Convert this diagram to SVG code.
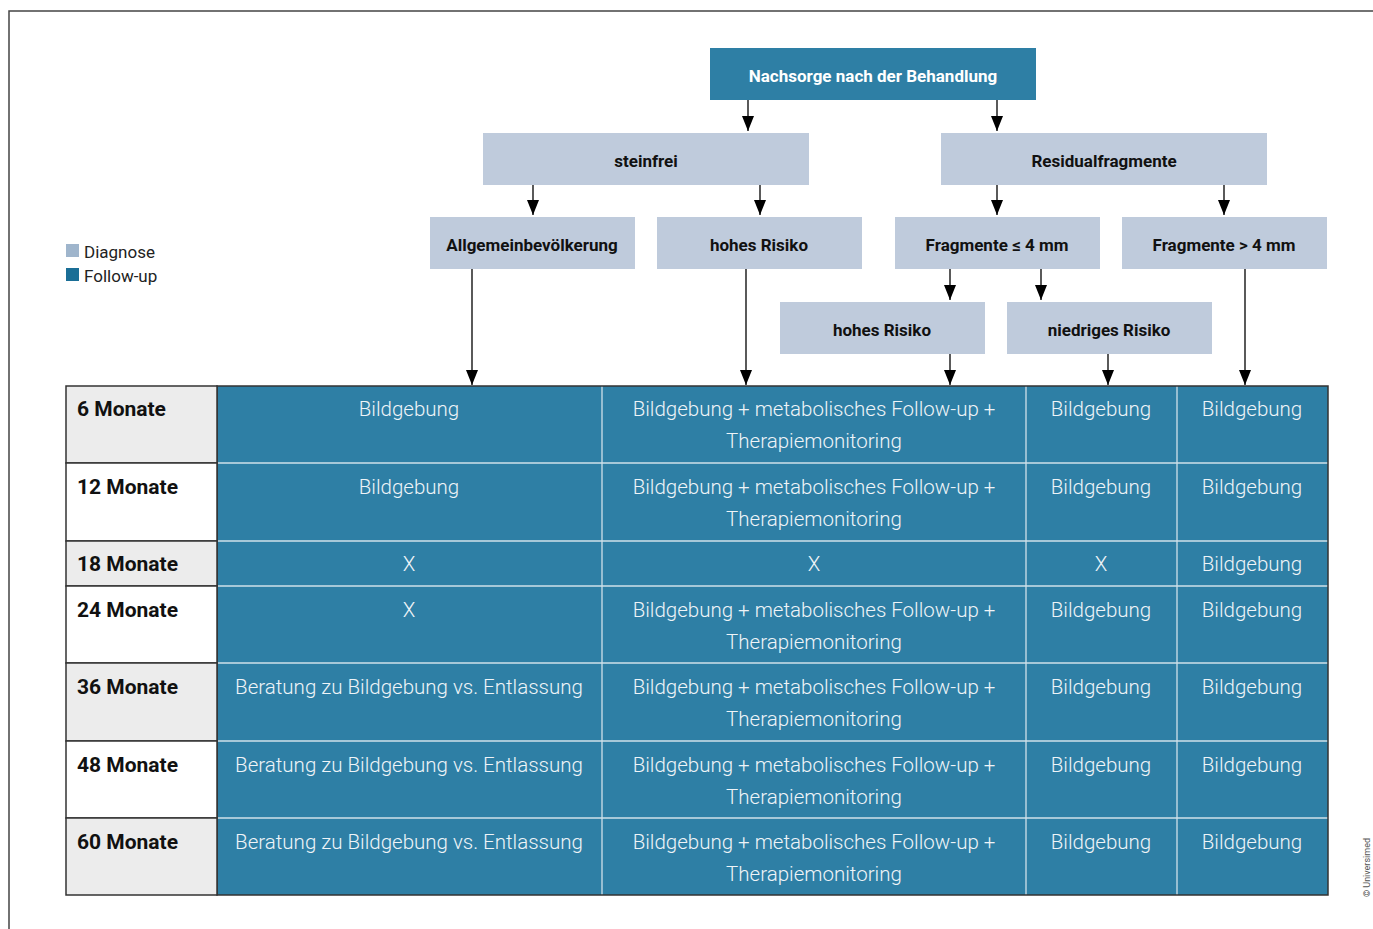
<svg xmlns="http://www.w3.org/2000/svg" width="1373" height="929" viewBox="0 0 1373 929">
<defs>
<marker id="ah" viewBox="0 0 15 12" refX="15" refY="6" markerWidth="15" markerHeight="12" markerUnits="userSpaceOnUse" orient="auto">
<path d="M0,0 L15,6 L0,12 Z" fill="#000"/>
</marker>
<style>
.frame{fill:none;stroke:#444;stroke-width:1.5}
.top{fill:#2e7fa5}
.diag{fill:#bfcbdc}
.ntw{font-family:Roboto,"Liberation Sans",sans-serif;font-weight:700;font-size:17px;fill:#fff;text-anchor:middle}
.nt{font-family:Roboto,"Liberation Sans",sans-serif;font-weight:700;font-size:17px;fill:#111;text-anchor:middle}
.conn line{stroke:#000;stroke-width:1.3;marker-end:url(#ah)}
.lab{stroke:#333;stroke-width:1.5}
.labg{fill:#ececec}
.labw{fill:#fff}
.lt{font-family:Roboto,"Liberation Sans",sans-serif;font-weight:700;font-size:21px;fill:#111}
.cell{fill:#2e7fa5}
.grid{stroke:#cfe1ea;stroke-width:1.3}
.ct{font-family:Roboto,"Liberation Sans",sans-serif;font-weight:300;font-size:20.5px;fill:#eef4f8;text-anchor:middle}
.leg{font-family:Roboto,"Liberation Sans",sans-serif;font-size:17px;fill:#222}
</style>
</defs>
<rect width="1373" height="929" fill="#fff"/>
<path class="frame" d="M9,929 L9,11 L1373,11"/>

<g id="legend">
<rect x="66" y="244" width="13" height="13" fill="#9fb5cc"/>
<text class="leg" x="84" y="258">Diagnose</text>
<rect x="66" y="268" width="13" height="13" fill="#1a6e96"/>
<text class="leg" x="84" y="282">Follow-up</text>
</g>

<g id="n-root"><rect class="top" x="710" y="48" width="326" height="52"/><text class="ntw" x="873" y="82">Nachsorge nach der Behandlung</text></g>
<g id="n-steinfrei"><rect class="diag" x="483" y="133" width="326" height="52"/><text class="nt" x="646" y="167">steinfrei</text></g>
<g id="n-residual"><rect class="diag" x="941" y="133" width="326" height="52"/><text class="nt" x="1104" y="167">Residualfragmente</text></g>
<g id="n-allgemein"><rect class="diag" x="430" y="217" width="205" height="52"/><text class="nt" x="532" y="251">Allgemeinbevölkerung</text></g>
<g id="n-hohes1"><rect class="diag" x="657" y="217" width="205" height="52"/><text class="nt" x="759" y="251">hohes Risiko</text></g>
<g id="n-frag-le4"><rect class="diag" x="895" y="217" width="205" height="52"/><text class="nt" x="997" y="251">Fragmente ≤ 4 mm</text></g>
<g id="n-frag-gt4"><rect class="diag" x="1122" y="217" width="205" height="52"/><text class="nt" x="1224" y="251">Fragmente &gt; 4 mm</text></g>
<g id="n-hohes2"><rect class="diag" x="780" y="302" width="205" height="52"/><text class="nt" x="882" y="336">hohes Risiko</text></g>
<g id="n-niedrig"><rect class="diag" x="1007" y="302" width="205" height="52"/><text class="nt" x="1109" y="336">niedriges Risiko</text></g>

<g id="connectors" class="conn">
<line x1="748" y1="100" x2="748" y2="131"/>
<line x1="997" y1="100" x2="997" y2="131"/>
<line x1="533" y1="185" x2="533" y2="215"/>
<line x1="760" y1="185" x2="760" y2="215"/>
<line x1="997" y1="185" x2="997" y2="215"/>
<line x1="1224" y1="185" x2="1224" y2="215"/>
<line x1="950" y1="269" x2="950" y2="300"/>
<line x1="1041" y1="269" x2="1041" y2="300"/>
<line x1="472" y1="269" x2="472" y2="385"/>
<line x1="746" y1="269" x2="746" y2="385"/>
<line x1="950" y1="354" x2="950" y2="385"/>
<line x1="1108" y1="354" x2="1108" y2="385"/>
<line x1="1245" y1="269" x2="1245" y2="385"/>
</g>

<g id="table">
<rect class="cell" x="217" y="386" width="1111" height="509"/>
<g class="grid">
<line x1="217" y1="463" x2="1328" y2="463"/>
<line x1="217" y1="541" x2="1328" y2="541"/>
<line x1="217" y1="586" x2="1328" y2="586"/>
<line x1="217" y1="663" x2="1328" y2="663"/>
<line x1="217" y1="741" x2="1328" y2="741"/>
<line x1="217" y1="818" x2="1328" y2="818"/>
<line x1="602" y1="386" x2="602" y2="895"/>
<line x1="1026" y1="386" x2="1026" y2="895"/>
<line x1="1177" y1="386" x2="1177" y2="895"/>
</g>
<rect x="217" y="386" width="1111" height="509" fill="none" stroke="#333" stroke-width="1.5"/>
<g class="lab">
<rect class="labg" x="66" y="386" width="151" height="77"/>
<rect class="labw" x="66" y="463" width="151" height="78"/>
<rect class="labg" x="66" y="541" width="151" height="45"/>
<rect class="labw" x="66" y="586" width="151" height="77"/>
<rect class="labg" x="66" y="663" width="151" height="78"/>
<rect class="labw" x="66" y="741" width="151" height="77"/>
<rect class="labg" x="66" y="818" width="151" height="77"/>
</g>
<text class="lt" x="77" y="416">6 Monate</text>
<text class="lt" x="77" y="494">12 Monate</text>
<text class="lt" x="77" y="571">18 Monate</text>
<text class="lt" x="77" y="617">24 Monate</text>
<text class="lt" x="77" y="694">36 Monate</text>
<text class="lt" x="77" y="772">48 Monate</text>
<text class="lt" x="77" y="849">60 Monate</text>

<text class="ct" x="409" y="416">Bildgebung</text>
<text class="ct" x="814" y="416">Bildgebung + metabolisches Follow-up +</text>
<text class="ct" x="814" y="448">Therapiemonitoring</text>
<text class="ct" x="1101" y="416">Bildgebung</text>
<text class="ct" x="1252" y="416">Bildgebung</text>

<text class="ct" x="409" y="494">Bildgebung</text>
<text class="ct" x="814" y="494">Bildgebung + metabolisches Follow-up +</text>
<text class="ct" x="814" y="526">Therapiemonitoring</text>
<text class="ct" x="1101" y="494">Bildgebung</text>
<text class="ct" x="1252" y="494">Bildgebung</text>

<text class="ct" x="409" y="571">X</text>
<text class="ct" x="814" y="571">X</text>
<text class="ct" x="1101" y="571">X</text>
<text class="ct" x="1252" y="571">Bildgebung</text>

<text class="ct" x="409" y="617">X</text>
<text class="ct" x="814" y="617">Bildgebung + metabolisches Follow-up +</text>
<text class="ct" x="814" y="649">Therapiemonitoring</text>
<text class="ct" x="1101" y="617">Bildgebung</text>
<text class="ct" x="1252" y="617">Bildgebung</text>

<text class="ct" x="409" y="694">Beratung zu Bildgebung vs. Entlassung</text>
<text class="ct" x="814" y="694">Bildgebung + metabolisches Follow-up +</text>
<text class="ct" x="814" y="726">Therapiemonitoring</text>
<text class="ct" x="1101" y="694">Bildgebung</text>
<text class="ct" x="1252" y="694">Bildgebung</text>

<text class="ct" x="409" y="772">Beratung zu Bildgebung vs. Entlassung</text>
<text class="ct" x="814" y="772">Bildgebung + metabolisches Follow-up +</text>
<text class="ct" x="814" y="804">Therapiemonitoring</text>
<text class="ct" x="1101" y="772">Bildgebung</text>
<text class="ct" x="1252" y="772">Bildgebung</text>

<text class="ct" x="409" y="849">Beratung zu Bildgebung vs. Entlassung</text>
<text class="ct" x="814" y="849">Bildgebung + metabolisches Follow-up +</text>
<text class="ct" x="814" y="881">Therapiemonitoring</text>
<text class="ct" x="1101" y="849">Bildgebung</text>
<text class="ct" x="1252" y="849">Bildgebung</text>
</g>

<text x="1370" y="897" transform="rotate(-90 1370 897)" font-family="Roboto,'Liberation Sans',sans-serif" font-size="9" fill="#555">© Universimed</text>
</svg>
